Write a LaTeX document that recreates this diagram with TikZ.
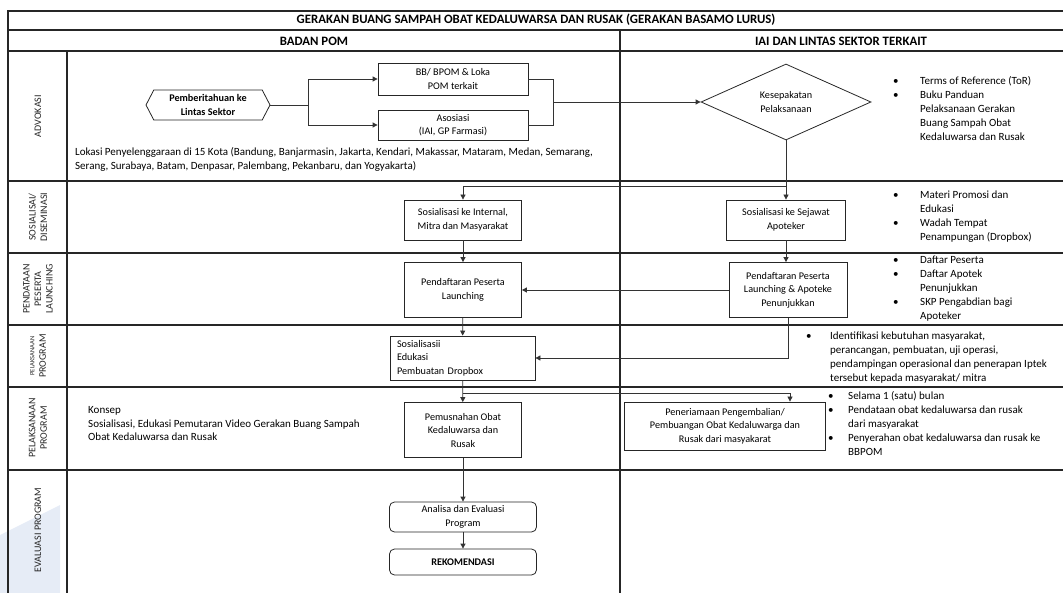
\documentclass[tikz,border=0pt]{standalone}
\usepackage{fontspec}
\setmainfont{Carlito}
\usetikzlibrary{shapes.geometric,shapes.symbols,arrows.meta}
\definecolor{wmark}{RGB}{230,236,246}
\begin{document}
\begin{tikzpicture}[x=1pt,y=-1pt,
  every node/.style={font=\fontsize{10.2}{13.5}\selectfont, inner sep=0pt},
  free/.style={font=\fontsize{11}{13.8}\selectfont},
  grid/.style={line width=1.1pt, black!85},
  box/.style={draw, line width=0.8pt, black!85, text=black, align=center},
  rbox/.style={box, rounded corners=5pt},
  hexa/.style={draw, line width=0.8pt, black!85, text=black, align=center, signal, signal to=west and east, signal pointer angle=125, minimum width=124pt, minimum height=30pt},
  dia/.style={draw, line width=0.8pt, black!85, text=black, align=center, diamond, minimum width=170pt, minimum height=76pt},
  line/.style={line width=0.8pt, black!80},
  conn/.style={line, -{Triangle[length=5pt,width=5pt]}},
  lbl/.style={rotate=90, align=center, font=\fontsize{10}{11.5}\selectfont, text=black!85},
  blist/.style={free, anchor=north west, align=left},
  hdr/.style={font=\fontsize{12.8}{13.5}\selectfont\bfseries}]
\useasboundingbox (0,0) rectangle (1063,593);
% watermark
\fill[wmark] (0,535) -- (60,505) -- (60,593) -- (0,593) -- cycle;
% table grid
\draw[grid] (8,593) -- (8,11) -- (1063,11);
\draw[grid] (8,30) -- (1063,30);
\draw[grid] (8,51) -- (1063,51);
\foreach \yy in {181,253,325,387,470} \draw[grid] (8,\yy) -- (1063,\yy);
\draw[grid] (620,30) -- (620,593);
\draw[grid] (67,51) -- (67,593);
% headers
\node[hdr] (title) at (536,20) {GERAKAN BUANG SAMPAH OBAT KEDALUWARSA DAN RUSAK (GERAKAN BASAMO LURUS)};
\node[hdr] (hbpom) at (314,41) {BADAN POM};
\node[hdr] (hiai) at (841,41) {IAI DAN LINTAS SEKTOR TERKAIT};
% row labels
\node[lbl] (l1) at (38,116) {ADVOKASI};
\node[lbl] (l2) at (38,217) {SOSIALISAI/\\DISEMINASI};
\node[lbl] (l3) at (38,289) {PENDATAAN\\PESERTA\\LAUNCHING};
\node[lbl] (l4) at (38,356) {{\fontsize{6.5}{8}\selectfont PELAKSANAAN}\\PROGRAM};
\node[lbl] (l5) at (38,428) {PELAKSANAAN\\PROGRAM};
\node[lbl] (l6) at (38,530) {EVALUASI PROGRAM};
% advokasi
\node[hexa] (pem) at (208,105) {\textbf{Pemberitahuan ke}\\\textbf{Lintas Sektor}};
\node[box, minimum width=150pt, minimum height=32pt] (bb) at (453,79) {BB/ BPOM \& Loka\\POM terkait};
\node[box, minimum width=150pt, minimum height=30pt] (aso) at (453,125) {Asosiasi\\(IAI, GP Farmasi)};
\node[dia] (kes) at (786,102) {Kesepakatan\\Pelaksanaan};
\coordinate (br) at (308,105);
\coordinate (mj) at (553,102);
\draw[line] (pem.east) -- (br);
\draw[conn] (br) |- (bb.west);
\draw[conn] (br) |- (aso.west);
\draw[line] (bb.east) -| (mj);
\draw[line] (aso.east) -| (mj);
\draw[conn] (mj) -- (kes.west);
\node[blist] (t1) at (75,147) {Lokasi Penyelenggaraan di 15 Kota (Bandung, Banjarmasin, Jakarta, Kendari, Makassar, Mataram, Medan, Semarang,\\Serang, Surabaya, Batam, Denpasar, Palembang, Pekanbaru, dan Yogyakarta)};
\node[blist] (b1) at (893,75) {\begin{tabular}{@{}p{27pt}@{}l@{}}\textbullet & Terms of Reference (ToR)\\ \textbullet & Buku Panduan\\ & Pelaksanaan Gerakan\\ & Buang Sampah Obat\\ & Kedaluwarsa dan Rusak\end{tabular}};
% sosialisasi
\node[box, minimum width=117pt, minimum height=40pt] (sint) at (463,220) {Sosialisasi ke Internal,\\Mitra dan Masyarakat};
\node[box, minimum width=119pt, minimum height=40pt] (sej) at (786,220) {Sosialisasi ke Sejawat\\Apoteker};
\coordinate (sp) at (786,186);
\draw[conn] (kes.south) -- (sej.north);
\draw[conn] (sp) -| (sint.north);
\node[blist] (b2) at (893,189) {\begin{tabular}{@{}p{27pt}@{}l@{}}\textbullet & Materi Promosi dan\\ & Edukasi\\ \textbullet & Wadah Tempat\\ & Penampungan (Dropbox)\end{tabular}};
% pendataan
\node[box, minimum width=117pt, minimum height=55pt] (lau) at (463,290) {Pendaftaran Peserta\\Launching};
\node[box, minimum width=118pt, minimum height=55pt] (pen) at (788,290) {Pendaftaran Peserta\\Launching \& Apoteke\\Penunjukkan};
\draw[conn] (sint) -- (lau);
\draw[conn] (sej.south) -- (sej.south |- pen.north);
\draw[conn] (pen.west) -- (lau.east);
\node[blist] (b3) at (893,254) {\begin{tabular}{@{}p{27pt}@{}l@{}}\textbullet & Daftar Peserta\\ \textbullet & Daftar Apotek\\ & Penunjukkan\\ \textbullet & SKP Pengabdian bagi\\ & Apoteker\end{tabular}};
% pelaksanaan 1
\node[box, minimum width=145pt, minimum height=44pt, align=left, text width=131pt] (sos) at (462.5,358) {Sosialisasii\\Edukasi\\Pembuatan Dropbox};
\draw[conn] (lau) -- (sos);
\draw[conn] (pen.south) |- (sos.east);
\node[blist] (b4) at (806,330) {\begin{tabular}{@{}p{24pt}@{}l@{}}\textbullet & Identifikasi kebutuhan masyarakat,\\ & perancangan, pembuatan, uji operasi,\\ & pendampingan operasional dan penerapan Iptek\\ & tersebut kepada masyarakat/ mitra\end{tabular}};
% pelaksanaan 2
\node[box, minimum width=117pt, minimum height=55pt] (pemu) at (463,430) {Pemusnahan Obat\\Kedaluwarsa dan\\Rusak};
\node[box, minimum width=201pt, minimum height=48pt] (pene) at (725,426) {Peneriamaan Pengembalian/\\Pembuangan Obat Kedaluwarga dan\\Rusak dari masyakarat};
\coordinate (sp2) at (463,393);
\coordinate (pt) at (790,393);
\draw[conn] (sos) -- (pemu);
\draw[conn] (sp2) -- (pt) -- (pt |- pene.north);
\node[blist] (t2) at (88,406) {Konsep\\Sosialisasi, Edukasi Pemutaran Video Gerakan Buang Sampah\\Obat Kedaluwarsa dan Rusak};
\node[blist] (b5) at (828,390) {\begin{tabular}{@{}p{20pt}@{}l@{}}\textbullet & Selama 1 (satu) bulan\\ \textbullet & Pendataan obat kedaluwarsa dan rusak\\ & dari masyarakat\\ \textbullet & Penyerahan obat kedaluwarsa dan rusak ke\\ & BBPOM\end{tabular}};
% evaluasi
\node[rbox, minimum width=147pt, minimum height=30pt] (ana) at (463,517) {Analisa dan Evaluasi\\Program};
\node[rbox, minimum width=147pt, minimum height=26pt] (rek) at (463,562) {\textbf{REKOMENDASI}};
\draw[conn] (pemu) -- (ana);
\draw[conn] (ana) -- (rek);
\end{tikzpicture}
\end{document}
